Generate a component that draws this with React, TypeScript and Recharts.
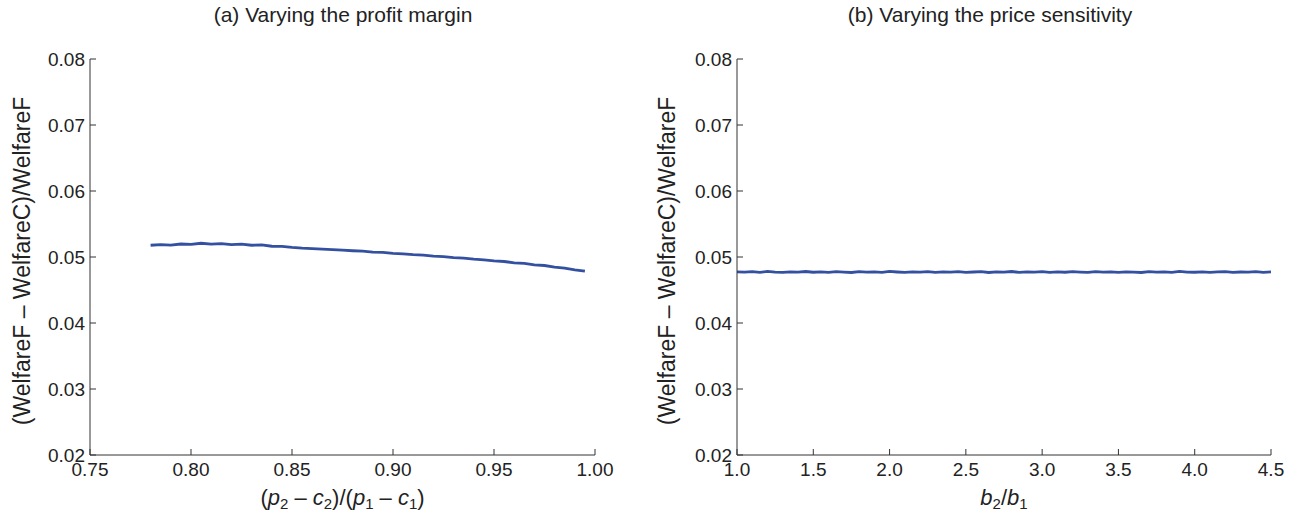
import { LineChart, Line, XAxis, YAxis } from 'recharts';

// panel (a): profit margin ratio vs relative welfare loss
const marginX = [
  0.78, 0.785, 0.79, 0.795, 0.8, 0.805, 0.81, 0.815, 0.82, 0.825, 0.83, 0.835,
  0.84, 0.845, 0.85, 0.855, 0.86, 0.865, 0.87, 0.875, 0.88, 0.885, 0.89, 0.895,
  0.9, 0.905, 0.91, 0.915, 0.92, 0.925, 0.93, 0.935, 0.94, 0.945, 0.95, 0.955,
  0.96, 0.965, 0.97, 0.975, 0.98, 0.985, 0.99, 0.995,
];
const marginY = [
  0.05178, 0.05188, 0.05179, 0.05197, 0.0519, 0.05208, 0.05196, 0.05204, 0.05188, 0.05196, 0.05178, 0.05184,
  0.05163, 0.05162, 0.05146, 0.05134, 0.05128, 0.0512, 0.05112, 0.05104, 0.05095, 0.05088, 0.05074, 0.05069,
  0.05055, 0.05048, 0.05036, 0.05029, 0.05013, 0.05007, 0.04992, 0.04984, 0.04969, 0.04958, 0.04942, 0.04932,
  0.04912, 0.04904, 0.04882, 0.04871, 0.04847, 0.04831, 0.04805, 0.04785,
];

// panel (b): price sensitivity ratio
const sensX = [
  1.0, 1.05, 1.1, 1.15, 1.2, 1.25, 1.3, 1.35, 1.4, 1.45, 1.5, 1.55, 1.6, 1.65, 1.7, 1.75,
  1.8, 1.85, 1.9, 1.95, 2.0, 2.05, 2.1, 2.15, 2.2, 2.25, 2.3, 2.35, 2.4, 2.45, 2.5, 2.55,
  2.6, 2.65, 2.7, 2.75, 2.8, 2.85, 2.9, 2.95, 3.0, 3.05, 3.1, 3.15, 3.2, 3.25, 3.3, 3.35,
  3.4, 3.45, 3.5, 3.55, 3.6, 3.65, 3.7, 3.75, 3.8, 3.85, 3.9, 3.95, 4.0, 4.05, 4.1, 4.15,
  4.2, 4.25, 4.3, 4.35, 4.4, 4.45, 4.5,
];
const sensY = [
  0.04775, 0.0477, 0.04778, 0.04768, 0.04782, 0.04772, 0.04766, 0.04776, 0.04771, 0.0478, 0.04769, 0.04774, 0.04767, 0.04777, 0.04772, 0.04765,
  0.04779, 0.0477, 0.04775, 0.04768, 0.04781, 0.04773, 0.04767, 0.04776, 0.0477, 0.04778, 0.04766, 0.04774, 0.04771, 0.04779, 0.04768, 0.04773,
  0.04777, 0.04765, 0.04776, 0.0477, 0.0478, 0.04767, 0.04774, 0.04771, 0.04778, 0.04766, 0.04775, 0.04769, 0.04777, 0.04772, 0.04767, 0.04779,
  0.0477, 0.04774, 0.04768, 0.04776, 0.04771, 0.04765, 0.04778, 0.0477, 0.04775, 0.04767, 0.04781, 0.04772, 0.04769, 0.04776, 0.04768, 0.04774,
  0.04779, 0.04766, 0.04773, 0.0477, 0.04777, 0.04768, 0.04774,
];

const marginTicks = [0.75, 0.8, 0.85, 0.9, 0.95, 1.0];
const sensTicks = [1.0, 1.5, 2.0, 2.5, 3.0, 3.5, 4.0, 4.5];
const yTicks = [0.02, 0.03, 0.04, 0.05, 0.06, 0.07, 0.08];

const titles = ['(a) Varying the profit margin', '(b) Varying the price sensitivity'];
const yLabel = '(WelfareF \u2013 WelfareC)/WelfareF';

const LINE = '#3450a0';
const AXIS = '#333';
const TEXT = '#222';
const FONT = '"Liberation Sans", Arial, Helvetica, sans-serif';

const marginData = marginX.map((x, i) => ({ x, y: marginY[i] }));
const sensData = sensX.map((x, i) => ({ x, y: sensY[i] }));

const tickStyle = { fontSize: 19, fill: TEXT, fontFamily: FONT };

const YLabel = (props: any) => {
  const vb = props.viewBox;
  const cx = 22;
  const cy = vb.y + vb.height / 2 + 4;
  return (
    <text x={cx} y={cy} transform={`rotate(-90 ${cx} ${cy})`} textAnchor="middle"
      dominantBaseline="central" fontSize={23} fill={TEXT} fontFamily={FONT}>
      {yLabel}
    </text>
  );
};

const SUB = 15;
const DROP = 4;

const MarginLabel = (props: any) => {
  const vb = props.viewBox;
  const cx = vb.x + vb.width / 2;
  return (
    <text x={cx} y={505} textAnchor="middle" fontSize={22} fill={TEXT} fontFamily={FONT}>
      <tspan>(</tspan>
      <tspan fontStyle="italic">p</tspan>
      <tspan fontSize={SUB} dy={DROP}>2</tspan>
      <tspan dy={-DROP}>{' \u2013 '}</tspan>
      <tspan fontStyle="italic">c</tspan>
      <tspan fontSize={SUB} dy={DROP}>2</tspan>
      <tspan dy={-DROP}>)/(</tspan>
      <tspan fontStyle="italic">p</tspan>
      <tspan fontSize={SUB} dy={DROP}>1</tspan>
      <tspan dy={-DROP}>{' \u2013 '}</tspan>
      <tspan fontStyle="italic">c</tspan>
      <tspan fontSize={SUB} dy={DROP}>1</tspan>
      <tspan dy={-DROP}>)</tspan>
    </text>
  );
};

const SensLabel = (props: any) => {
  const vb = props.viewBox;
  const cx = vb.x + vb.width / 2;
  return (
    <text x={cx} y={505} textAnchor="middle" fontSize={22} fill={TEXT} fontFamily={FONT}>
      <tspan fontStyle="italic">b</tspan>
      <tspan fontSize={SUB} dy={DROP}>2</tspan>
      <tspan dy={-DROP}>/</tspan>
      <tspan fontStyle="italic">b</tspan>
      <tspan fontSize={SUB} dy={DROP}>1</tspan>
    </text>
  );
};

const Title = ({ text, center }: { text: string; center: number }) => (
  <div style={{
    position: 'absolute', top: 3, left: center - 250, width: 500, textAlign: 'center',
    fontSize: 21, color: TEXT, fontFamily: FONT,
  }}>
    {text}
  </div>
);

export default function App() {
  return (
    <div style={{ position: 'absolute', left: 0, top: 0, width: 1291, height: 515, background: '#fff' }}>
      <div style={{ position: 'absolute', left: 0, top: 0 }}>
        <LineChart width={645} height={515} data={marginData} margin={{ top: 59, right: 50, bottom: 0, left: 0 }}>
          <XAxis dataKey="x" type="number" domain={[0.75, 1.0]} ticks={marginTicks} allowDataOverflow
            tickFormatter={(v: number) => v.toFixed(2)} height={60} tickSize={-6} tickMargin={14}
            stroke={AXIS} tick={tickStyle} interval={0} label={<MarginLabel />} />
          <YAxis dataKey="y" type="number" domain={[0.02, 0.08]} ticks={yTicks} allowDataOverflow
            tickFormatter={(v: number) => v.toFixed(2)} width={90} tickSize={-6} tickMargin={11}
            stroke={AXIS} tick={tickStyle} interval={0} label={<YLabel />} />
          <Line type="linear" dataKey="y" stroke={LINE} strokeWidth={2.8} dot={false} isAnimationActive={false} />
        </LineChart>
      </div>
      <div style={{ position: 'absolute', left: 645, top: 0 }}>
        <LineChart width={646} height={515} data={sensData} margin={{ top: 59, right: 20, bottom: 0, left: 0 }}>
          <XAxis dataKey="x" type="number" domain={[1.0, 4.5]} ticks={sensTicks} allowDataOverflow
            tickFormatter={(v: number) => v.toFixed(1)} height={60} tickSize={-6} tickMargin={14}
            stroke={AXIS} tick={tickStyle} interval={0} label={<SensLabel />} />
          <YAxis dataKey="y" type="number" domain={[0.02, 0.08]} ticks={yTicks} allowDataOverflow
            tickFormatter={(v: number) => v.toFixed(2)} width={92} tickSize={-6} tickMargin={11}
            stroke={AXIS} tick={tickStyle} interval={0} label={<YLabel />} />
          <Line type="linear" dataKey="y" stroke={LINE} strokeWidth={2.8} dot={false} isAnimationActive={false} />
        </LineChart>
      </div>
      <Title text={titles[0]} center={343} />
      <Title text={titles[1]} center={990} />
    </div>
  );
}
